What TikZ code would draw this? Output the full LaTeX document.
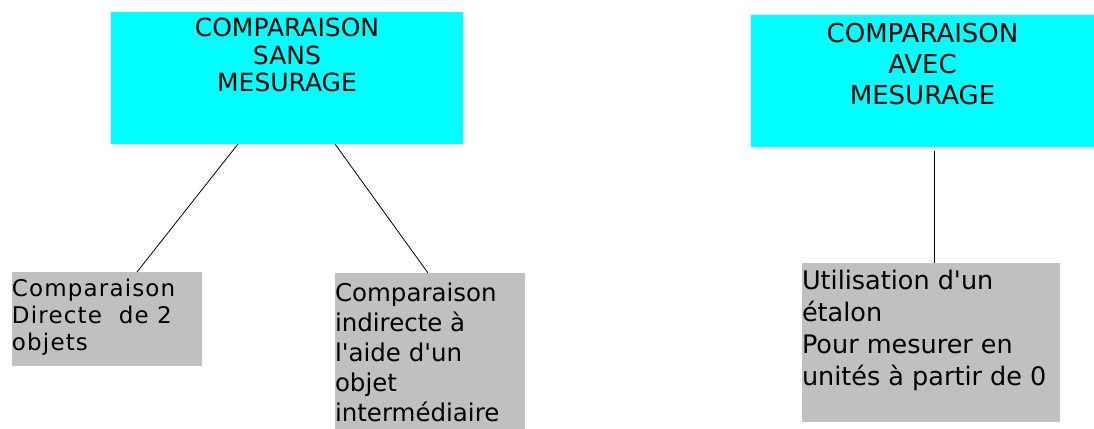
\documentclass[tikz,border=0pt]{standalone}
\usepackage{fontspec}
\setmainfont{DejaVu Sans}
\usetikzlibrary{calc}
\definecolor{cyanbox}{RGB}{0,255,255}
\definecolor{graybox}{RGB}{192,192,192}
\newcommand{\sq}{\XeTeXglyph\XeTeXglyphindex"quotesingle"\relax}
\tikzset{
  topbox/.style={fill=cyanbox, inner sep=0pt, outer sep=0pt, anchor=north west},
  leafbox/.style={fill=graybox, inner sep=0pt, outer sep=0pt, anchor=north west},
  link/.style={draw=black, line width=0.8pt}
}
\begin{document}
\begin{tikzpicture}[x=1pt, y=-1pt]
\useasboundingbox (0,0) rectangle (1094,428);
% top boxes
\node[topbox] (A) at (111,12) {\parbox[t][132pt][t]{352pt}{\centering\fontsize{25}{27.5}\selectfont
  \rule{0pt}{25pt}COMPARAISON\\SANS\\MESURAGE}};
\node[topbox] (B) at (751,15) {\parbox[t][132pt][t]{343pt}{\centering\fontsize{26}{31}\selectfont
  \rule{0pt}{27.5pt}COMPARAISON\\AVEC\\MESURAGE}};
% leaf boxes
\node[leafbox] (C) at (12,272) {\parbox[t][94pt][t]{190pt}{\raggedright\fontsize{23}{27}\selectfont\addfontfeature{LetterSpace=5}%
  \rule{0pt}{24pt}Comparaison\\Directe\ \ de 2\\objets}};
\node[leafbox] (D) at (335,273) {\parbox[t][157pt][t]{190pt}{\raggedright\fontsize{24.5}{30}\selectfont
  \rule{0pt}{28pt}Comparaison\\indirecte à\\l\sq aide d\sq un\\objet\\intermédiaire}};
\node[leafbox] (E) at (802,263) {\parbox[t][159pt][t]{258pt}{\raggedright\fontsize{25.5}{32}\selectfont
  \rule{0pt}{26pt}Utilisation d\sq un\\étalon\\Pour mesurer en\\unités à partir de 0}};
% connectors
\draw[link] ($(A.south west)+(127,0)$) -- ($(C.north west)+(125,0)$);
\draw[link] ($(A.south west)+(224,0)$) -- ($(D.north west)+(93,0)$);
\draw[link] ($(B.south west)+(183,4)$) -- ($(E.north west)+(132,0)$);
\end{tikzpicture}
\end{document}
